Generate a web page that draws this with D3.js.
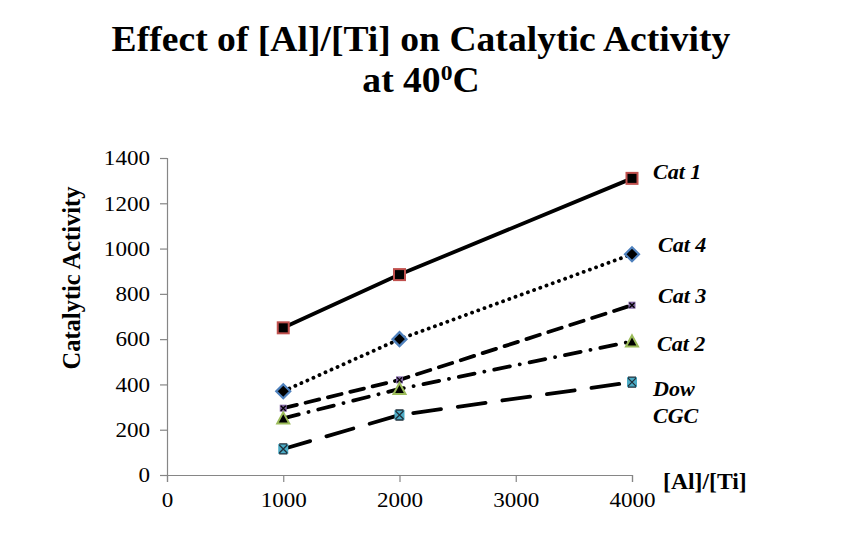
<!DOCTYPE html>
<html><head><meta charset="utf-8">
<script src="https://cdn.jsdelivr.net/npm/d3@7"></script>
<style>body{margin:0;background:#fff}svg{display:block}</style>
</head><body>
<svg id="c" width="841" height="547"></svg>
<script>
const xValues = [1000, 2000, 4000];
const seriesNames = ["Cat 1", "Cat 4", "Cat 3", "Cat 2", "Dow CGC"];
const cat1 = [650, 885, 1310];
const cat4 = [370, 600, 975];
const cat3 = [295, 420, 750];
const cat2 = [250, 380, 590];
const dowCGC = [115, 265, 410];
const yTicks = [0, 200, 400, 600, 800, 1000, 1200, 1400];
const xTicks = [0, 1000, 2000, 3000, 4000];

const svg = d3.select("#c");
const font = "'Liberation Serif','Times New Roman',serif";
const x = d3.scaleLinear().domain([0, 4000]).range([167, 632]);
const y = d3.scaleLinear().domain([0, 1400]).range([475, 158]);

function stext(px, py, sx, size, opts = {}) {
  const g = svg.append("g").attr("transform", `translate(${px},${py}) scale(${sx},1)`);
  return g.append("text").attr("font-family", font).attr("font-weight", "bold")
    .attr("font-style", opts.italic ? "italic" : "normal")
    .attr("text-anchor", opts.anchor || "start").attr("font-size", size);
}

// Title
stext(421, 51, 1.075, 35, {anchor: "middle"}).text("Effect of [Al]/[Ti] on Catalytic Activity");
const t2 = stext(421, 92, 1.075, 35, {anchor: "middle"});
t2.append("tspan").text("at 40");
t2.append("tspan").attr("font-size", 22).attr("dy", -12).text("0");
t2.append("tspan").attr("dy", 12).text("C");

// Axes
const TS = 1.1;
const yAxis = d3.axisLeft(y).tickValues(yTicks).tickSize(7).tickPadding(17).tickFormat(d3.format("d"));
const gy = svg.append("g").attr("transform", "translate(167,0)").call(yAxis);
const xAxis = d3.axisBottom(x).tickValues(xTicks).tickSize(7).tickPadding(10).tickFormat(d3.format("d"));
const gx = svg.append("g").attr("transform", "translate(0,475)").call(xAxis);
[gy, gx].forEach(g => {
  g.select(".domain").attr("stroke", "#868686").attr("stroke-width", 1.2);
  g.selectAll(".tick line").attr("stroke", "#868686").attr("stroke-width", 1.2);
  g.selectAll(".tick text").attr("fill", "#000").attr("font-family", font).attr("font-size", 21);
});
gy.selectAll(".tick text").attr("x", -17 / TS).attr("transform", `scale(${TS},1)`);
gx.selectAll(".tick text").attr("dy", null).attr("y", 32).attr("transform", `scale(${TS},1)`);

svg.append("text").attr("font-family", font).attr("font-weight", "bold").attr("font-size", 24.5)
  .attr("transform", "translate(80,278) rotate(-90)").attr("text-anchor", "middle").text("Catalytic Activity");
stext(663, 489, 1.03, 23).text("[Al]/[Ti]");

const series = [
  {name: "Cat 1", vals: cat1, dash: null, cap: "butt", marker: "square", stroke: "#c0504d", fill: "#000", size: 11},
  {name: "Cat 4", vals: cat4, dash: "0.1 6.5", cap: "round", marker: "diamond", stroke: "#4f81bd", fill: "#000", size: 11},
  {name: "Cat 3", vals: cat3, dash: "14 9", cap: "round", marker: "xsquare", stroke: "#8064a2", fill: "#8064a2", size: 7},
  {name: "Cat 2", vals: cat2, dash: "16 10 0.1 10", cap: "round", marker: "triangle", stroke: "#9bbb59", fill: "#000", size: 11},
  {name: "Dow CGC", vals: dowCGC, dash: "28 17", cap: "round", marker: "star", stroke: "#4bacc6", fill: "#4bacc6", size: 10}
];

const line = d3.line().x(d => x(d[0])).y(d => y(d[1]));
series.forEach(s => {
  const pts = xValues.map((v, i) => [v, s.vals[i]]);
  svg.append("path").attr("d", line(pts)).attr("fill", "none").attr("stroke", "#000")
    .attr("stroke-width", 3.8).attr("stroke-linecap", s.cap)
    .attr("stroke-dasharray", s.dash);
  const g = svg.append("g");
  pts.forEach(p => {
    const cx = x(p[0]), cy = y(p[1]), r = s.size / 2;
    if (s.marker === "square") {
      g.append("rect").attr("x", cx - r).attr("y", cy - r).attr("width", s.size).attr("height", s.size)
        .attr("fill", s.fill).attr("stroke", s.stroke).attr("stroke-width", 2);
    } else if (s.marker === "diamond") {
      g.append("path").attr("d", `M${cx},${cy - 7}L${cx + 7},${cy}L${cx},${cy + 7}L${cx - 7},${cy}Z`)
        .attr("fill", s.fill).attr("stroke", s.stroke).attr("stroke-width", 2.2);
    } else if (s.marker === "xsquare") {
      g.append("rect").attr("x", cx - r).attr("y", cy - r).attr("width", s.size).attr("height", s.size)
        .attr("fill", s.fill);
      g.append("path").attr("d", `M${cx - 2.5},${cy - 2.5}L${cx + 2.5},${cy + 2.5}M${cx + 2.5},${cy - 2.5}L${cx - 2.5},${cy + 2.5}`)
        .attr("stroke", "#000").attr("stroke-width", 1.3);
    } else if (s.marker === "triangle") {
      g.append("path").attr("d", `M${cx},${cy - 6}L${cx + 6},${cy + 5}L${cx - 6},${cy + 5}Z`)
        .attr("fill", s.fill).attr("stroke", s.stroke).attr("stroke-width", 2);
    } else if (s.marker === "star") {
      g.append("rect").attr("x", cx - r).attr("y", cy - r).attr("width", s.size).attr("height", s.size)
        .attr("fill", s.fill);
      g.append("path").attr("d", `M${cx - 4},${cy - 4}L${cx + 4},${cy + 4}M${cx + 4},${cy - 4}L${cx - 4},${cy + 4}M${cx - 4},${cy - 5}L${cx + 4},${cy - 5}M${cx - 4},${cy + 5}L${cx + 4},${cy + 5}`)
        .attr("stroke", "#1f2f3a").attr("stroke-width", 1.3);
    }
  });
});

// Series labels
const labelPos = [[653, 179], [658, 252], [658, 303], [657, 351], [653, 396]];
series.forEach((s, i) => {
  const txt = stext(labelPos[i][0], labelPos[i][1], 1.05, 21, {italic: true});
  const parts = s.name === "Dow CGC" ? ["Dow", "CGC"] : [s.name];
  parts.forEach((p, j) => txt.append("tspan").attr("x", 0).attr("dy", j ? 27 : 0).text(p));
});
</script>
</body></html>
